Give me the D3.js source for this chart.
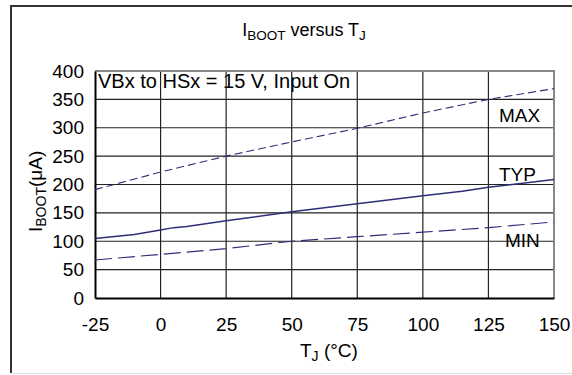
<!DOCTYPE html>
<html>
<head>
<meta charset="utf-8">
<script src="https://cdn.jsdelivr.net/npm/d3@7.9.0/dist/d3.min.js"></script>
<style>
  body { margin: 0; background: #fff; }
  svg { display: block; font-family: "Liberation Sans", Arial, sans-serif; }
</style>
</head>
<body>
<svg id="chart" width="572" height="375"></svg>
<script>
// values
const xTicks = [-25, 0, 25, 50, 75, 100, 125, 150];
const yTicks = [0, 50, 100, 150, 200, 250, 300, 350, 400];

const maxTemp = [-25, 0, 25, 50, 75, 100, 125, 150];
const maxVals = [191, 222, 250, 275, 299, 326, 350, 369];

const typTemp = [-25, -10, 0, 5, 10, 25, 50, 75, 100, 115, 125, 150];
const typVals = [105, 112, 120, 124, 126, 136, 152, 166, 180, 188, 195, 209];

const minTemp = [-25, 0, 25, 50, 75, 100, 125, 150];
const minVals = [67, 77, 87, 100, 108, 116, 124, 134];

const svg = d3.select('#chart');
const plotL = 95, plotR = 554, plotT = 71, plotB = 298;
const fs = 19;

const x = d3.scaleLinear().domain([-25, 150]).range([plotL, plotR]);
const y = d3.scaleLinear().domain([0, 400]).range([plotB, plotT]);

// outer frame
svg.append('line').attr('x1', 11).attr('x2', 11).attr('y1', 5).attr('y2', 373)
  .attr('stroke', '#333').attr('stroke-width', 2);
svg.append('line').attr('x1', 10).attr('x2', 572).attr('y1', 6).attr('y2', 6)
  .attr('stroke', '#333').attr('stroke-width', 2);
svg.append('line').attr('x1', 12).attr('x2', 572).attr('y1', 373.5).attr('y2', 373.5)
  .attr('stroke', '#ddd').attr('stroke-width', 1);

// title
const title = svg.append('text').attr('x', 304).attr('y', 36)
  .attr('text-anchor', 'middle').attr('font-size', 18);
title.append('tspan').text('I');
title.append('tspan').attr('font-size', 13.5).attr('dy', 4).text('BOOT');
title.append('tspan').attr('dy', -4).text(' versus T');
title.append('tspan').attr('font-size', 13.5).attr('dy', 4).text('J');

// annotation text (grid drawn over it)
svg.append('text').attr('x', 98).attr('y', 88).attr('font-size', 20)
  .text('VBx to HSx = 15 V, Input On');

// grid
svg.append('g').selectAll('line').data(xTicks.slice(1, -1)).join('line')
  .attr('x1', d => x(d)).attr('x2', d => x(d)).attr('y1', plotT).attr('y2', plotB)
  .attr('stroke', '#222').attr('stroke-width', 1.2);
svg.append('g').selectAll('line').data(yTicks.slice(1, -1)).join('line')
  .attr('x1', plotL).attr('x2', plotR).attr('y1', d => y(d)).attr('y2', d => y(d))
  .attr('stroke', '#222').attr('stroke-width', 1.2);

// top / right border gray
svg.append('path')
  .attr('d', `M${plotL},${y(400)}H${plotR}V${plotB}`)
  .attr('fill', 'none').attr('stroke', '#888').attr('stroke-width', 2);

// axes
const xAxis = d3.axisBottom(x).tickValues(xTicks).tickSize(0).tickPadding(20)
  .tickFormat(d => String(d));
const gx = svg.append('g').attr('transform', `translate(0,${plotB})`).call(xAxis);
gx.select('.domain').attr('stroke', '#000').attr('stroke-width', 2);
gx.selectAll('text').attr('font-size', fs).attr('fill', '#000')
  .attr('font-family', '"Liberation Sans", Arial, sans-serif');

const yAxis = d3.axisLeft(y).tickValues(yTicks).tickSize(0).tickPadding(11)
  .tickFormat(d => String(d));
const gy = svg.append('g').attr('transform', `translate(${plotL},0)`).call(yAxis);
gy.select('.domain').attr('stroke', '#000').attr('stroke-width', 2);
gy.selectAll('text').attr('font-size', fs).attr('fill', '#000')
  .attr('font-family', '"Liberation Sans", Arial, sans-serif');

// axis titles
const xt = svg.append('text').attr('x', 300).attr('y', 357).attr('font-size', fs);
xt.append('tspan').text('T');
xt.append('tspan').attr('font-size', 14).attr('dy', 4).text('J');
xt.append('tspan').attr('dy', -4).text(' (°C)');

const yt = svg.append('text').attr('transform', 'translate(42,232) rotate(-90)')
  .attr('font-size', fs);
yt.append('tspan').text('I');
yt.append('tspan').attr('font-size', 14).attr('dy', 4).text('BOOT');
yt.append('tspan').attr('dy', -4).text('(μA)');

// curves
const lineColor = '#2e2e78';
const line = d3.line().x(d => x(d[0])).y(d => y(d[1]));
const series = [
  { t: maxTemp, v: maxVals, dash: '8,4', w: 1.1 },
  { t: typTemp, v: typVals, dash: null, w: 1.5 },
  { t: minTemp, v: minVals, dash: '17,6', w: 1.2 }
];
series.forEach(s => {
  svg.append('path')
    .attr('d', line(d3.zip(s.t, s.v)))
    .attr('fill', 'none').attr('stroke', lineColor)
    .attr('stroke-width', s.w).attr('stroke-dasharray', s.dash);
});

// series labels
svg.append('text').attr('x', 499).attr('y', 122).attr('font-size', fs).text('MAX');
svg.append('text').attr('x', 499).attr('y', 181).attr('font-size', fs).text('TYP');
svg.append('text').attr('x', 505).attr('y', 247).attr('font-size', fs).text('MIN');
</script>
</body>
</html>
